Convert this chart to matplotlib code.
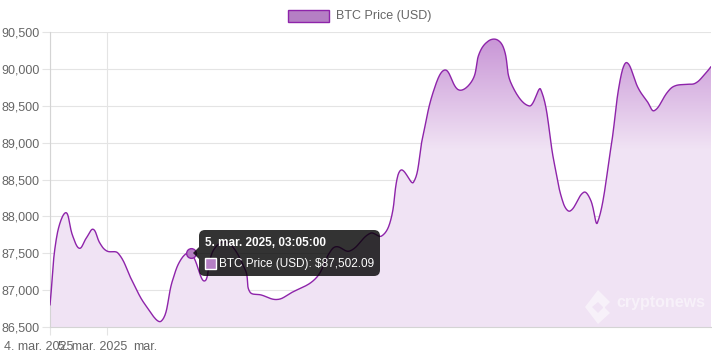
"""BTC price line chart (cryptonews style) recreated with matplotlib."""

import matplotlib

matplotlib.use("Agg")
import matplotlib.pyplot as plt
import numpy as np
import pandas as pd
from matplotlib.patches import FancyBboxPatch, Polygon, Rectangle
from matplotlib.transforms import Affine2D
from matplotlib.ticker import FuncFormatter

plt.rcParams["font.family"] = ["Liberation Sans", "DejaVu Sans"]

# ---- data -------------------------------------------------------------
times = [
    "2025-03-04 21:55", "2025-03-04 22:10", "2025-03-04 22:30", "2025-03-04 22:45",
    "2025-03-04 23:00", "2025-03-04 23:15", "2025-03-04 23:30", "2025-03-04 23:45",
    "2025-03-05 00:00", "2025-03-05 00:25", "2025-03-05 00:55", "2025-03-05 01:25",
    "2025-03-05 02:00", "2025-03-05 02:25", "2025-03-05 02:45", "2025-03-05 03:05",
    "2025-03-05 03:35", "2025-03-05 03:55", "2025-03-05 04:25", "2025-03-05 05:05",
    "2025-03-05 05:15", "2025-03-05 05:40", "2025-03-05 06:15", "2025-03-05 06:45",
    "2025-03-05 07:40", "2025-03-05 08:10", "2025-03-05 08:25", "2025-03-05 08:55",
    "2025-03-05 09:40", "2025-03-05 10:05", "2025-03-05 10:25", "2025-03-05 10:40",
    "2025-03-05 10:50", "2025-03-05 11:15", "2025-03-05 11:35",
    "2025-03-05 12:00", "2025-03-05 12:25", "2025-03-05 12:55", "2025-03-05 13:25",
    "2025-03-05 13:40", "2025-03-05 14:00", "2025-03-05 14:20", "2025-03-05 14:35",
    "2025-03-05 14:50", "2025-03-05 15:30", "2025-03-05 15:55",
    "2025-03-05 16:25", "2025-03-05 16:45", "2025-03-05 17:00", "2025-03-05 17:30",
    "2025-03-05 17:45", "2025-03-05 18:00", "2025-03-05 18:30",
    "2025-03-05 18:50", "2025-03-05 19:05", "2025-03-05 19:30", "2025-03-05 19:50",
    "2025-03-05 20:05", "2025-03-05 20:35", "2025-03-05 20:50", "2025-03-05 21:15",
    "2025-03-05 21:35", "2025-03-05 21:55", "2025-03-05 22:10",
]
prices = [
    86798, 87734, 88050, 87734,
    87567, 87707, 87825, 87635,
    87531, 87500, 87137, 86798,
    86581, 87137, 87432, 87502.09,
    87124, 87544, 87650, 87273,
    86975, 86934, 86873, 86961,
    87160, 87504, 87589, 87531,
    87771, 87734, 87951, 88538,
    88629, 88462, 89063,
    89714, 89985, 89714, 89849,
    90211, 90378, 90392, 90256,
    89804, 89497, 89723,
    88720, 88177, 88073, 88327,
    88222, 87914, 88945,
    89849, 90084, 89737, 89555,
    89433, 89691, 89768, 89791,
    89804, 89917, 90030,
]
y_ticks = [86500, 87000, 87500, 88000, 88500, 89000, 89500, 90000, 90500]
x_labels = ["4. mar. 2025", "5. mar. 2025"]
series_name = "BTC Price (USD)"
tooltip_time = "5. mar. 2025, 03:05:00"
tooltip_index = 15

LINE = "#8e24aa"
PURPLE_RGB = np.array([142, 36, 170]) / 255
GRID = "#e4e4e4"
TEXT = "#666666"

W, H = 712, 356
fig = plt.figure(figsize=(W / 100, H / 100), dpi=100)
ax = fig.add_axes([50 / W, (H - 327) / H, 661 / W, 295 / H])

origin = pd.Timestamp("2025-03-05 00:00")
x = ((pd.to_datetime(times) - origin) / pd.Timedelta(hours=1)).to_numpy()
y = np.array(prices, dtype=float)
ymin, ymax = y_ticks[0], y_ticks[-1]


# ---- Chart.js style bezier smoothing (tension 0.4) -------------------
def smooth(xv, yv, tension=0.4, steps=24):
    sx = 661 / (xv[-1] - xv[0])
    sy = 295 / (ymax - ymin)
    p = np.column_stack([xv * sx, yv * sy])
    n = len(p)
    cp_prev = np.zeros_like(p)
    cp_next = np.zeros_like(p)
    for i in range(n):
        prv = p[max(i - 1, 0)]
        nxt = p[min(i + 1, n - 1)]
        d01 = np.hypot(*(p[i] - prv))
        d12 = np.hypot(*(nxt - p[i]))
        tot = d01 + d12
        s01 = d01 / tot if tot else 0
        s12 = d12 / tot if tot else 0
        cp_prev[i] = p[i] - tension * s01 * (nxt - prv)
        cp_next[i] = p[i] + tension * s12 * (nxt - prv)
    t = np.linspace(0, 1, steps)[:, None]
    out = [p[:1]]
    for i in range(n - 1):
        b = ((1 - t) ** 3 * p[i] + 3 * (1 - t) ** 2 * t * cp_next[i]
             + 3 * (1 - t) * t ** 2 * cp_prev[i + 1] + t ** 3 * p[i + 1])
        out.append(b[1:])
    c = np.vstack(out)
    return c[:, 0] / sx, c[:, 1] / sy


xs, ys = smooth(x, y)

# ---- gradient fill ---------------------------------------------------
frac = np.linspace(1, 0, 300)
alpha = 0.125 + (0.5 - 0.125) * np.clip((frac - 0.6) / 0.4, 0, 1)
grad = np.ones((300, 1, 4))
grad[:, 0, :3] = 1 - alpha[:, None] * (1 - PURPLE_RGB)
poly = ax.fill_between(xs, ys, ymin, facecolor="none", edgecolor="none")
im = ax.imshow(grad, extent=[x[0], x[-1], ymin, ymax], aspect="auto",
               origin="upper", zorder=1)
im.set_clip_path(poly.get_paths()[0], transform=ax.transData)

ax.plot(xs, ys, color=LINE, lw=1.0, zorder=3, solid_capstyle="round")
ax.plot(x[tooltip_index], y[tooltip_index], "o", ms=7, mfc="#b57fc4",
        mec=LINE, mew=1, zorder=4)

# ---- axes styling ----------------------------------------------------
ax.set_xlim(x[0], x[-1])
ax.set_ylim(ymin, ymax)
ax.set_yticks(y_ticks)
ax.yaxis.set_major_formatter(FuncFormatter(lambda v, _: f"{v:,.0f}"))
ax.set_xticks([x[0], 0.0])
ax.set_xticklabels([])
ax.grid(True, color=GRID, lw=0.8, zorder=0)
ax.set_axisbelow(True)
for side in ("top", "right"):
    ax.spines[side].set_visible(False)
for side in ("left", "bottom"):
    ax.spines[side].set_color("#d4d4d4")
    ax.spines[side].set_linewidth(0.8)
ax.tick_params(axis="y", length=6, width=0.8, color=GRID, pad=1.5,
               labelsize=9, labelcolor=TEXT)
ax.tick_params(axis="x", length=6, width=0.8, color=GRID)

for pos, lab, dx in zip([x[0], 0.0], x_labels, [-11, -14]):
    ax.annotate(lab, xy=(pos, 0), xycoords=("data", "axes fraction"),
                xytext=(dx, -20), textcoords="offset pixels",
                ha="center", va="center", fontsize=9, color=TEXT)
ax.annotate("mar.", xy=(0.0, 0), xycoords=("data", "axes fraction"),
            xytext=(38, -20), textcoords="offset pixels",
            ha="center", va="center", fontsize=9, color=TEXT)

# ---- pixel-space overlays (top-left origin) ---------------------------
pix = Affine2D().scale(1, -1).translate(0, H)

# legend
fig.patches.append(Rectangle((288, 10), 41, 12, transform=pix,
                             facecolor="#b57fc4", edgecolor=LINE, lw=1))
fig.text(336 / W, 1 - 16.5 / H, series_name, fontsize=9, color=TEXT,
         ha="left", va="center")

# watermark
wm = (1, 1, 1, 0.5)
fig.patches.append(Polygon([(598, 290), (610, 302), (604, 308), (598, 302),
                            (592, 307), (598, 313), (604, 307), (610, 313),
                            (598, 324), (585, 307)], closed=True,
                           transform=pix, facecolor=wm, edgecolor="none"))
fig.text(616 / W, 1 - 302 / H, "cryptonews", fontsize=11.5, fontweight="bold",
         color=wm, ha="left", va="center")

# tooltip
tip = (0, 0, 0, 0.8)
fig.patches.append(FancyBboxPatch((199, 230), 181, 46, transform=pix,
                                  boxstyle="round,pad=0,rounding_size=6",
                                  facecolor=tip, edgecolor="none", zorder=10))
fig.patches.append(Polygon([(199, 247), (193, 253), (199, 259)], closed=True,
                           transform=pix, facecolor=tip, edgecolor="none",
                           zorder=10))
fig.text(205 / W, 1 - 242.5 / H, tooltip_time, fontsize=8.5, fontweight="bold",
         color="white", ha="left", va="center", zorder=11)
fig.patches.append(Rectangle((205, 258), 11, 11, transform=pix,
                             facecolor="#b57fc4", edgecolor="white", lw=1,
                             zorder=11))
fig.text(219 / W, 1 - 264 / H, f"{series_name}: ${y[tooltip_index]:,.2f}",
         fontsize=8.5, color="white", ha="left", va="center", zorder=11)

fig.savefig("out.png", dpi=100)
